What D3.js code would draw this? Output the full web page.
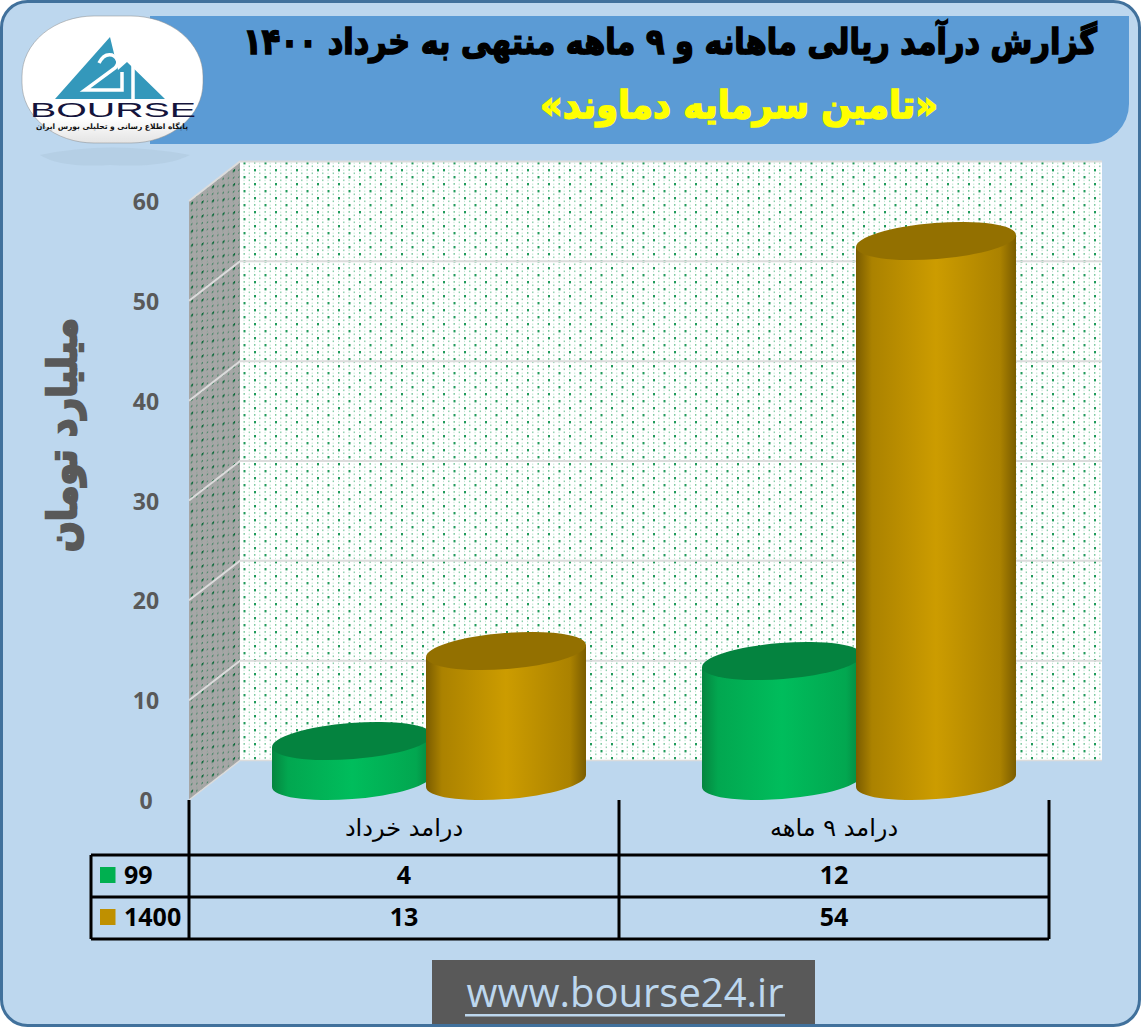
<!DOCTYPE html>
<html><head><meta charset="utf-8">
<script src="https://cdn.jsdelivr.net/npm/d3@7"></script>
<style>html,body{margin:0;padding:0;background:#fff}svg{display:block}</style></head>
<body><div id="c"></div>
<script>
const categories=["درامد خرداد","درامد ۹ ماهه"];
const seriesNames=["99","1400"];
const values99=[4,12];
const values1400=[13,54];
const yTicks=[0,10,20,30,40,50,60];
const titleMain="گزارش درآمد ریالی ماهانه و ۹ ماهه منتهی به خرداد ۱۴۰۰";
const titleSub="«تامین سرمایه دماوند»";
const yTitle="میلیارد تومان";
const footer="www.bourse24.ir";
const seriesValues=[values99,values1400];

const W=1141,H=1027;
const svg=d3.select("#c").append("svg").attr("width",W).attr("height",H);
const defs=svg.append("defs");
const faFont="'DejaVu Sans',sans-serif", latin="'Open Sans',Lato,sans-serif";

// patterns
function dots(id,bg,c1,c2,c3,tf){
  const p=defs.append("pattern").attr("id",id).attr("patternUnits","userSpaceOnUse").attr("width",21).attr("height",14);
  if(tf)p.attr("patternTransform",tf);
  p.append("rect").attr("width",21).attr("height",14).attr("fill",bg);
  [[2,1,c1,2],[12.5,1,c2,1.4],[7.2,1.5,c3,1],[17.7,1.5,c3,1],[7.2,4.5,c2,1.2],[17.7,4.5,c2,1.2],[2,4.8,c3,1],[12.5,4.8,c3,1],
   [2,8,c2,1.4],[12.5,8,c1,2],[7.2,8.5,c3,1],[17.7,8.5,c3,1],[7.2,11.5,c2,1.2],[17.7,11.5,c2,1.2],[2,11.8,c3,1],[12.5,11.8,c3,1]].forEach(d=>
    p.append("rect").attr("x",d[0]).attr("y",d[1]).attr("width",d[3]).attr("height",d[3]+.4).attr("fill",d[2]));
}
dots("wall","#fff","#1f9a5a","#7cc9a0","#c4e6d3");
dots("side","#a6a6a6","#0f6b3c","#3f8260","#8aa596","skewY(-37.8)");
function grad(id,edge,mid){
  const g=defs.append("linearGradient").attr("id",id).attr("gradientUnits","objectBoundingBox");
  [[0,edge],[.1,d3.interpolateRgb(edge,mid)(.6)],[.5,mid],[.9,d3.interpolateRgb(edge,mid)(.6)],[1,edge]].forEach(s=>
    g.append("stop").attr("offset",s[0]).attr("stop-color",s[1]));
}
grad("g0","#05853f","#00bd5c");
grad("g1","#7a5c00","#cc9c00");
const hdr=defs.append("linearGradient").attr("id","logoG").attr("x1",0).attr("x2",0).attr("y1",0).attr("y2",1);
hdr.append("stop").attr("offset",.8).attr("stop-color","#fff");hdr.append("stop").attr("offset",1).attr("stop-color","#e4e4e4");

// frame fill
svg.append("rect").attr("x",1.5).attr("y",1.5).attr("width",W-3).attr("height",H-3).attr("rx",26)
  .attr("fill","#bdd7ee");
// header band
svg.append("path").attr("fill","#5b9bd5")
  .attr("d",`M150 16H1129V104A40 40 0 0 1 1089 144H150Z`);

// scales
const y=d3.scaleLinear().domain([0,60]).range([800,201]);
const yBar=d3.scaleLinear().domain([0,60]).range([781,181]);
const depthX=51,depthY=-39.5;
const x0=189,x1=1049;
const xCat=d3.scaleBand().domain(categories).range([x0,x1]);

// walls
const bw={l:x0+depthX,r:1102};
svg.append("rect").attr("x",bw.l).attr("y",y(60)+depthY).attr("width",bw.r-bw.l).attr("height",y(0)-y(60))
  .attr("fill","url(#wall)");
svg.append("path").attr("fill","url(#side)")
  .attr("d",`M${x0} ${y(60)}L${bw.l} ${y(60)+depthY}V${y(0)+depthY}L${x0} ${y(0)}Z`);
// gridlines
const grid=svg.append("g").attr("fill","none").attr("stroke","#dcdcdc").attr("stroke-width",2);
yTicks.slice(1).forEach(t=>{
  grid.append("path").attr("d",`M${x0} ${y(t)}L${bw.l} ${y(t)+depthY}H${bw.r}`);
});
svg.append("path").attr("fill","none").attr("stroke","#dcdcdc").attr("stroke-width",1.5)
  .attr("d",`M${x0} ${y(0)}L${bw.l} ${y(0)+depthY}H${bw.r}`);

// y axis labels
svg.append("g").selectAll("text").data(yTicks).join("text")
  .attr("x",146).attr("y",d=>y(d)+3).attr("text-anchor","middle").attr("dominant-baseline","middle")
  .attr("font-family",latin).attr("font-weight",700).attr("font-size",23).attr("fill","#595959").text(d=>d);

// cylinders
const barW=160,hw=80,ty=6,a=80.2,b=18,rot=-4.5;
const barOffset=[-132,22];
const tops=["#04833f","#937000"];
categories.forEach((c,ci)=>{
  const cx0=xCat(c)+xCat.bandwidth()/2;
  seriesValues.forEach((vals,si)=>{
    const cx=cx0+barOffset[si]+barW/2, yt=yBar(vals[ci]), yb=yBar(0);
    svg.append("path").attr("fill",`url(#g${si})`)
      .attr("d",`M${cx-hw} ${yt+ty}V${yb+ty}A${a} ${b} ${rot} 0 0 ${cx+hw} ${yb-ty}V${yt-ty}Z`);
    svg.append("ellipse").attr("cx",0).attr("cy",0).attr("rx",a).attr("ry",b)
      .attr("transform",`translate(${cx},${yt}) rotate(${rot})`).attr("fill",tops[si]);
  });
});

// data table
const rowY=[855,897,939], leftX=91;
const tl=svg.append("g").attr("stroke","#000").attr("stroke-width",3).attr("fill","none");
[x0,xCat(categories[1]),x1].forEach(xv=>tl.append("line").attr("x1",xv).attr("x2",xv).attr("y1",800).attr("y2",rowY[2]));
rowY.forEach(r=>tl.append("line").attr("x1",leftX).attr("x2",x1).attr("y1",r).attr("y2",r));
tl.append("line").attr("x1",leftX).attr("x2",leftX).attr("y1",rowY[0]).attr("y2",rowY[2]);
svg.append("g").selectAll("text").data(categories).join("text")
  .attr("x",d=>xCat(d)+xCat.bandwidth()/2).attr("y",829).attr("text-anchor","middle").attr("dominant-baseline","middle")
  .attr("direction","rtl").attr("font-family",faFont).attr("font-size",24).attr("fill","#000").text(d=>d);
const swatches=["#00b050","#bf9000"];
seriesNames.forEach((n,i)=>{
  const cy=(rowY[i]+rowY[i+1])/2-1;
  svg.append("rect").attr("x",100).attr("y",cy-8).attr("width",15.5).attr("height",16).attr("fill",swatches[i]);
  svg.append("text").attr("x",124).attr("y",cy+2).attr("dominant-baseline","middle")
    .attr("font-family",latin).attr("font-weight",700).attr("font-size",25).attr("fill","#000").text(n);
  categories.forEach((c,ci)=>{
    svg.append("text").attr("x",xCat(c)+xCat.bandwidth()/2).attr("y",cy+2)
      .attr("text-anchor","middle").attr("dominant-baseline","middle")
      .attr("font-family",latin).attr("font-weight",700).attr("font-size",25).attr("fill","#000").text(seriesValues[i][ci]);
  });
});

// heavy text squeezed horizontally to its measured width
function squeezed(str,cx,cy,width,size,fill,sw,angle){
  const t=svg.append("text").attr("text-anchor","middle").attr("dominant-baseline","middle")
    .attr("direction","rtl").attr("font-family",faFont).attr("font-weight",700).attr("font-size",size)
    .attr("fill",fill).attr("stroke",fill).attr("stroke-width",sw).text(str);
  const s=width/t.node().getComputedTextLength();
  t.attr("transform",`translate(${cx},${cy}) rotate(${angle}) scale(${s},1)`);
}
squeezed(yTitle,65,435,234,40,"#595959",2.5,-90);
squeezed(titleMain,670,44,854,36,"#000",1.6,0);
squeezed(titleSub,739,107,398,38,"#ffff00",1.6,0);

// logo
const lg=svg.append("g");
lg.append("path").attr("fill","#a9c2d8").attr("opacity",.4)
  .attr("d","M40 155Q110 140 190 155Q165 168 110 165Q60 168 40 155Z");
lg.append("rect").attr("x",22).attr("y",16).attr("width",181).attr("height",127).attr("rx",72).attr("ry",60)
  .attr("fill","url(#logoG)").attr("stroke","#888").attr("stroke-width",.5);
lg.append("path").attr("fill","#3498bb").attr("d","M110 37L55 99H165L127 62L118 70Z");
lg.append("path").attr("fill","none").attr("stroke","#fff").attr("stroke-width",3.5)
  .attr("d","M99 63Q104 53 112 55Q122 60 115 68L85 90H122V72M133 66V99");
lg.append("text").attr("x",113).attr("y",111).attr("text-anchor","middle").attr("dominant-baseline","middle")
  .attr("font-family","'Liberation Sans',sans-serif").attr("font-size",21).attr("textLength",166).attr("lengthAdjust","spacingAndGlyphs").attr("fill","#14143c").text("BOURSE");
lg.append("text").attr("x",112).attr("y",127).attr("text-anchor","middle").attr("dominant-baseline","middle")
  .attr("direction","rtl").attr("font-family",faFont).attr("font-weight",700).attr("font-size",7.5).attr("fill","#111").text("پایگاه اطلاع رسانی و تحلیلی بورس ایران");

// footer
svg.append("rect").attr("x",432).attr("y",960).attr("width",383).attr("height",67).attr("fill","#595959");
svg.append("text").attr("x",625).attr("y",1007).attr("text-anchor","middle")
  .attr("font-family","'Open Sans',sans-serif").attr("font-size",40).attr("fill","#bdd7ee").text(footer);
svg.append("rect").attr("x",465).attr("y",1014).attr("width",320).attr("height",2.5).attr("fill","#bdd7ee");

// frame outline
svg.append("rect").attr("x",1.5).attr("y",1.5).attr("width",W-3).attr("height",H-3).attr("rx",26)
  .attr("fill","none").attr("stroke","#41719c").attr("stroke-width",3);
</script></body></html>
